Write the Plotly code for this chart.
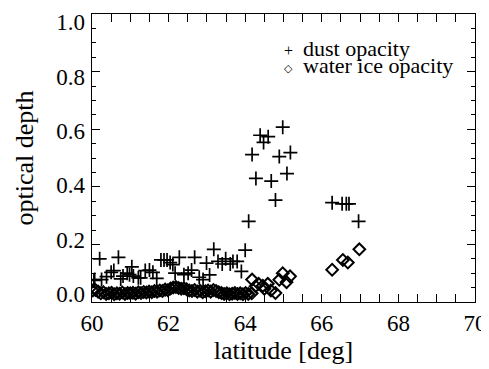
import plotly.graph_objects as go

# dust opacity (latitude in deg, optical depth)
dust_lat = [60.05, 60.07, 60.20, 60.25, 60.38, 60.50, 60.57, 60.69, 60.75, 60.81,
            60.92, 60.98, 61.04, 61.08, 61.21, 61.27, 61.39, 61.50, 61.59, 61.69,
            61.80, 61.88, 61.96, 62.04, 62.11, 62.17, 62.28, 62.40, 62.51, 62.60,
            62.68, 62.80, 62.90, 62.99, 63.07, 63.18, 63.29, 63.40, 63.49, 63.61,
            63.68, 63.79, 63.90, 64.00, 64.09, 64.18, 64.28, 64.39, 64.48, 64.60,
            64.68, 64.79, 64.89, 64.98, 65.09, 65.18, 66.27, 66.53, 66.64, 66.71,
            66.96]
dust_tau = [0.075, 0.078, 0.150, 0.078, 0.088, 0.103, 0.109, 0.155, 0.080, 0.090,
            0.100, 0.095, 0.122, 0.090, 0.084, 0.084, 0.109, 0.111, 0.103, 0.082,
            0.146, 0.146, 0.146, 0.137, 0.130, 0.100, 0.155, 0.095, 0.100, 0.111,
            0.155, 0.086, 0.078, 0.135, 0.094, 0.183, 0.141, 0.132, 0.150, 0.132,
            0.141, 0.141, 0.106, 0.180, 0.280, 0.512, 0.429, 0.579, 0.554, 0.574,
            0.420, 0.354, 0.505, 0.607, 0.446, 0.519, 0.345, 0.341, 0.341, 0.341,
            0.280]

# water ice opacity
ice_lat = [60.02, 60.09, 60.16, 60.23, 60.30, 60.37, 60.44, 60.51, 60.58, 60.65,
           60.72, 60.79, 60.86, 60.93, 61.00, 61.07, 61.14, 61.21, 61.28, 61.35,
           61.42, 61.49, 61.56, 61.63, 61.70, 61.77, 61.84, 61.91, 61.98, 62.05,
           62.12, 62.19, 62.26, 62.33, 62.40, 62.47, 62.54, 62.61, 62.68, 62.75,
           62.82, 62.89, 62.96, 63.03, 63.10, 63.17, 63.24, 63.31, 63.38, 63.45,
           63.52, 63.59, 63.66, 63.73, 63.80, 63.87, 63.94, 64.01, 64.08, 64.17,
           64.18, 64.27, 64.35, 64.46, 64.50, 64.59, 64.67, 64.79, 64.89, 64.98,
           65.08, 65.17, 66.27, 66.55, 66.68, 66.98]
ice_tau = [0.040, 0.042, 0.036, 0.030, 0.034, 0.028, 0.030, 0.032, 0.027, 0.030,
           0.029, 0.033, 0.028, 0.031, 0.030, 0.032, 0.029, 0.034, 0.031, 0.035,
           0.033, 0.036, 0.034, 0.038, 0.036, 0.040, 0.038, 0.043, 0.041, 0.047,
           0.050, 0.052, 0.049, 0.046, 0.048, 0.044, 0.040, 0.038, 0.042, 0.036,
           0.039, 0.034, 0.037, 0.040, 0.036, 0.042, 0.038, 0.034, 0.031, 0.028,
           0.030, 0.027, 0.029, 0.031, 0.028, 0.030, 0.027, 0.031, 0.028, 0.030,
           0.078, 0.055, 0.063, 0.056, 0.046, 0.063, 0.040, 0.031, 0.077, 0.100,
           0.069, 0.089, 0.112, 0.146, 0.137, 0.183]

x_ticks = [60, 62, 64, 66, 68, 70]
y_ticks = [0.0, 0.2, 0.4, 0.6, 0.8, 1.0]
y_tick_text = ["0.0", "0.2", "0.4", "0.6", "0.8", "1.0"]

FONT = "Liberation Serif"

fig = go.Figure()
fig.add_trace(go.Scatter(x=ice_lat, y=ice_tau, mode="markers",
                         marker=dict(symbol="diamond-open", size=9, color="black",
                                     line=dict(width=2, color="black")),
                         showlegend=False))
fig.add_trace(go.Scatter(x=dust_lat, y=dust_tau, mode="markers",
                         marker=dict(symbol="cross-thin", size=10, color="black",
                                     line=dict(width=1.7, color="black")),
                         showlegend=False))
# empty trace so the label axis is drawn
fig.add_trace(go.Scatter(x=[], y=[], yaxis="y2", showlegend=False, hoverinfo="skip"))

tick_font = dict(family=FONT, size=23, color="black")
title_font = dict(family=FONT, size=26, color="black")

fig.update_xaxes(range=[60, 70], tickvals=x_ticks,
                 showline=True, linecolor="black", linewidth=1, mirror="allticks",
                 ticks="inside", tickcolor="black", ticklen=8, tickwidth=1,
                 showgrid=False, zeroline=False, tickfont=tick_font,
                 ticklabeloverflow="allow",
                 minor=dict(ticks="inside", dtick=0.5, ticklen=4, tickcolor="black"),
                 title=dict(text="latitude [deg]", font=title_font, standoff=4))

fig.update_layout(yaxis=dict(range=[0, 1], tickvals=y_ticks, showticklabels=False,
                             showline=True, linecolor="black", linewidth=1, mirror="allticks",
                             ticks="inside", tickcolor="black", ticklen=8, tickwidth=1,
                             showgrid=False, zeroline=False,
                             minor=dict(ticks="inside", dtick=0.05, ticklen=4,
                                        tickcolor="black")),
                  yaxis2=dict(range=[-0.03, 1.03], tickvals=y_ticks, ticktext=y_tick_text,
                              overlaying="y", side="left", anchor="x",
                              showline=False, ticks="", showgrid=False, zeroline=False,
                              tickfont=tick_font, ticklabelstandoff=6,
                              ticklabeloverflow="allow",
                              title=dict(text="optical depth", font=title_font, standoff=15)))

# page body adds an 8 px offset; plot frame spans x 92..477, y 10..302 in the window
L, T, R, B = 84, 2, 12, 67
W, H = 481, 361
PW, PH = W - L - R, H - T - B


def px(x):
    return (x - 8 - L) / PW


def py(y):
    return (H - B + 8 - y) / PH


leg_font = dict(family=FONT, size=22, color="black")
fig.add_annotation(xref="paper", yref="paper", x=px(290), y=py(47),
                   text="+", showarrow=False, xanchor="center", yanchor="middle",
                   font=dict(family=FONT, size=16, color="black"))
fig.add_annotation(xref="paper", yref="paper", x=px(290), y=py(65),
                   text="◇", showarrow=False, xanchor="center", yanchor="middle",
                   font=dict(family="DejaVu Sans", size=11, color="black"))
fig.add_annotation(xref="paper", yref="paper", x=px(302), y=py(45),
                   text="dust opacity", showarrow=False, xanchor="left", yanchor="middle",
                   font=leg_font)
fig.add_annotation(xref="paper", yref="paper", x=px(302), y=py(62),
                   text="water ice opacity", showarrow=False, xanchor="left", yanchor="middle",
                   font=leg_font)

fig.update_layout(width=W, height=H, plot_bgcolor="white", paper_bgcolor="white",
                  margin=dict(l=L, r=R, t=T, b=B), showlegend=False)

fig.write_html("out.html")
